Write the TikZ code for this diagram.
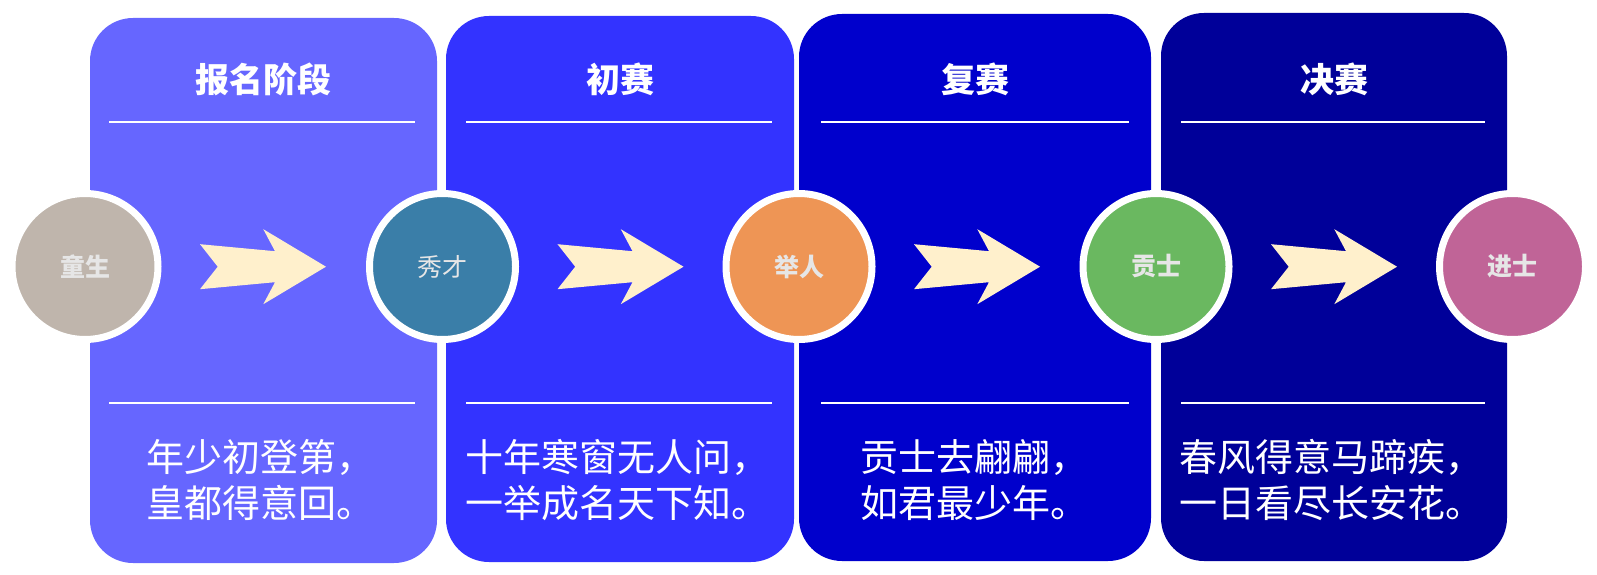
\documentclass[tikz,border=0pt]{standalone}
\usepackage{fontspec}
\setmainfont{Noto Sans CJK SC}
\usepackage{xcolor}
\usepackage{tikz}
\definecolor{stageA}{HTML}{6666FF}
\definecolor{stageB}{HTML}{3333FF}
\definecolor{stageC}{HTML}{0000CC}
\definecolor{stageD}{HTML}{000099}
\definecolor{rankA}{HTML}{BFB5AC}
\definecolor{rankB}{HTML}{3A7EA8}
\definecolor{rankC}{HTML}{EE9555}
\definecolor{rankD}{HTML}{6AB860}
\definecolor{rankE}{HTML}{C06497}
\definecolor{cream}{HTML}{FFF0CC}
\definecolor{label}{HTML}{E6E6E6}
\tikzset{
  stagebox/.style={rounded corners=43pt},
  rule/.style={draw=white, line width=2pt},
  title/.style={text=white, font=\fontsize{34}{34}\selectfont\bfseries},
  verse/.style={text=white, font=\fontsize{38}{46}\selectfont, align=left, anchor=west, inner sep=0pt},
  rank/.style={circle, draw=white, line width=7pt, minimum size=146pt, inner sep=0pt, text=label, font=\fontsize{25}{25}\selectfont\bfseries},
  chevron/.pic={
    \fill[cream] (0,-22.5) -- (17.7,0) -- (0,22.5) -- (75,15.5) -- (63.3,37.5)
      -- (126,0) -- (63.3,-37.5) -- (75,-15.5) -- cycle;
  },
}
\begin{document}
\begin{tikzpicture}[x=1pt,y=-1pt]
  \useasboundingbox (0,0) rectangle (1597,575);
  % four stages
  \fill[stagebox, fill=stageA] (90,18) rectangle (437,563);
  \fill[stagebox, fill=stageB] (446,16) rectangle (794,562);
  \fill[stagebox, fill=stageC] (799,14) rectangle (1151,561);
  \fill[stagebox, fill=stageD] (1161,13) rectangle (1507,561);
  \draw[rule] (109,122) -- (415,122);
  \draw[rule] (109,403) -- (415,403);
  \draw[rule] (466,122) -- (772,122);
  \draw[rule] (466,403) -- (772,403);
  \draw[rule] (821,122) -- (1129,122);
  \draw[rule] (821,403) -- (1129,403);
  \draw[rule] (1181,122) -- (1485,122);
  \draw[rule] (1181,403) -- (1485,403);
  \node[title] (t1) at (263.5,79) {报名阶段};
  \node[title] (t2) at (620,79) {初赛};
  \node[title] (t3) at (975,79) {复赛};
  \node[title] (t4) at (1334,79) {决赛};
  \node[verse] (v1) at (146,480) {年少初登第，\\皇都得意回。};
  \node[verse] (v2) at (465,480) {十年寒窗无人问，\\一举成名天下知。};
  \node[verse] (v3) at (860,480) {贡士去翩翩，\\如君最少年。};
  \node[verse] (v4) at (1179,480) {春风得意马蹄疾，\\一日看尽长安花。};
  % arrows between ranks
  \pic at (200,266.7) {chevron};
  \pic at (557.5,266.7) {chevron};
  \pic at (914,266.7) {chevron};
  \pic at (1271,266.7) {chevron};
  \node[rank, fill=rankA] (tong) at (85,266.5) {童生};
  \node[rank, fill=rankB, font=\fontsize{25}{25}\selectfont] (xiu) at (442.5,266.5) {秀才};
  \node[rank, fill=rankC] (ju) at (799,266.5) {举人};
  \node[rank, fill=rankD] (gong) at (1156,266.5) {贡士};
  \node[rank, fill=rankE] (jin) at (1512.5,266.5) {进士};
\end{tikzpicture}
\end{document}
